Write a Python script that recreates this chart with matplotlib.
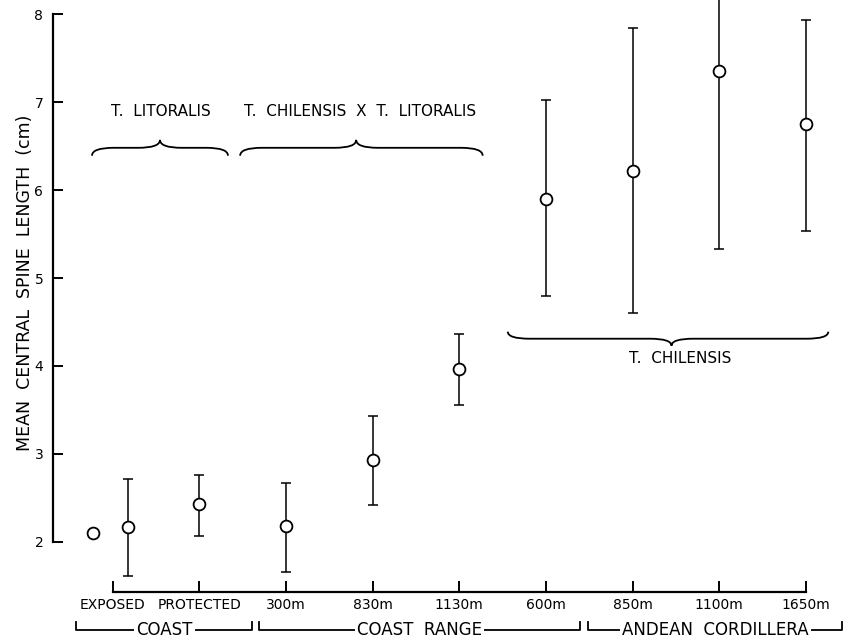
import numpy as np
import matplotlib.pyplot as plt
from matplotlib.path import Path
from matplotlib.patches import PathPatch

# site categories along the x axis (index 0..8)
sites = ["EXPOSED", "PROTECTED", "300m", "830m", "1130m",
         "600m", "850m", "1100m", "1650m"]

# lone exposed-coast point without error bar
lone_x = [-0.23]
lone_mean = [2.10]

# points with range bars
pt_x = [0.18, 1, 2, 3, 4, 5, 6, 7, 8]
pt_mean = [2.17, 2.43, 2.18, 2.93, 3.97, 5.90, 6.22, 7.35, 6.75]
pt_low = [1.61, 2.07, 1.66, 2.42, 3.56, 4.80, 4.60, 5.33, 5.53]
pt_high = [2.72, 2.76, 2.67, 3.43, 4.36, 7.02, 7.84, 8.20, 7.93]

# regions below the axis: (label, start, end)
regions = [("COAST", -0.42, 1.61),
           ("COAST  RANGE", 1.69, 5.39),
           ("ANDEAN  CORDILLERA", 5.49, 8.42)]

FONT = "DejaVu Sans"
plt.rcParams["font.family"] = FONT

fig = plt.figure(figsize=(8.48, 6.4), dpi=100)
ax = fig.add_axes([53 / 848, 40 / 640, (840 - 53) / 848, 600 / 640])
ax.set_xlim(-0.69, 8.395)
ax.set_ylim(1.34, 8.16)

for s in ["top", "right"]:
    ax.spines[s].set_visible(False)
ax.spines["left"].set_bounds(2, 8)
ax.spines["left"].set_linewidth(1.6)
ax.spines["bottom"].set_position(("data", 1.43))
ax.spines["bottom"].set_bounds(0, 8)
ax.spines["bottom"].set_linewidth(1.6)

ax.set_yticks([2, 3, 4, 5, 6, 7, 8])
ax.set_xticks(range(len(sites)))
ax.set_xticklabels(sites)
ax.tick_params(axis="y", direction="in", length=7, width=1.4, pad=7, labelsize=10)
ax.tick_params(axis="x", direction="in", length=8, width=1.4, pad=4, labelsize=10)

ax.set_ylabel("MEAN  CENTRAL  SPINE  LENGTH  (cm)", fontsize=12.5, labelpad=5)
ax.yaxis.set_label_coords(-19 / 787, (600 - 283 + 0) / 600 - 0.0)

# range bars and means
mean = np.array(pt_mean)
yerr = [mean - np.array(pt_low), np.array(pt_high) - mean]
ax.errorbar(pt_x, pt_mean, yerr=yerr, fmt="none", ecolor="black",
            elinewidth=1.1, capsize=3.5, capthick=1.1, zorder=2)
ax.plot(pt_x + lone_x, pt_mean + lone_mean, "o", ms=8.5, mfc="white",
        mec="black", mew=1.3, ls="none", zorder=3)


def brace(x0, x1, yl, h, dx=0.25, xm=None):
    # ends sit at yl - h, the cusp at yl + h
    if xm is None:
        xm = (x0 + x1) / 2
    verts = [(x0, yl - h), (x0, yl), (x0 + dx, yl),
             (xm - dx, yl), (xm, yl), (xm, yl + h),
             (xm, yl), (xm + dx, yl),
             (x1 - dx, yl), (x1, yl), (x1, yl - h)]
    codes = [Path.MOVETO, Path.CURVE3, Path.CURVE3,
             Path.LINETO, Path.CURVE3, Path.CURVE3,
             Path.CURVE3, Path.CURVE3,
             Path.LINETO, Path.CURVE3, Path.CURVE3]
    ax.add_patch(PathPatch(Path(verts, codes), fill=False, lw=1.3,
                           ec="black", clip_on=False))


# taxon braces
brace(-0.24, 1.33, 6.48, 0.09)
ax.text(0.55, 6.89, "T.  LITORALIS", ha="center", va="center", fontsize=11)
brace(1.47, 4.27, 6.48, 0.09, xm=2.81)
ax.text(2.86, 6.89, "T.  CHILENSIS  X  T.  LITORALIS", ha="center",
        va="center", fontsize=11)
brace(4.56, 8.26, 4.31, -0.08, xm=6.45)
ax.text(6.55, 4.09, "T.  CHILENSIS", ha="center", va="center", fontsize=11)

# region brackets under the tick labels
y_reg = 1.0
for name, a, b in regions:
    mid = (a + b) / 2
    ax.text(mid, y_reg, name, ha="center", va="center", fontsize=12,
            bbox=dict(fc="white", ec="none", pad=1.5), zorder=4,
            clip_on=False)
    ax.plot([a, a, b, b], [y_reg + 0.09, y_reg, y_reg, y_reg + 0.09],
            color="black", lw=1.3, clip_on=False, zorder=3)

fig.savefig("out.png", dpi=100)
